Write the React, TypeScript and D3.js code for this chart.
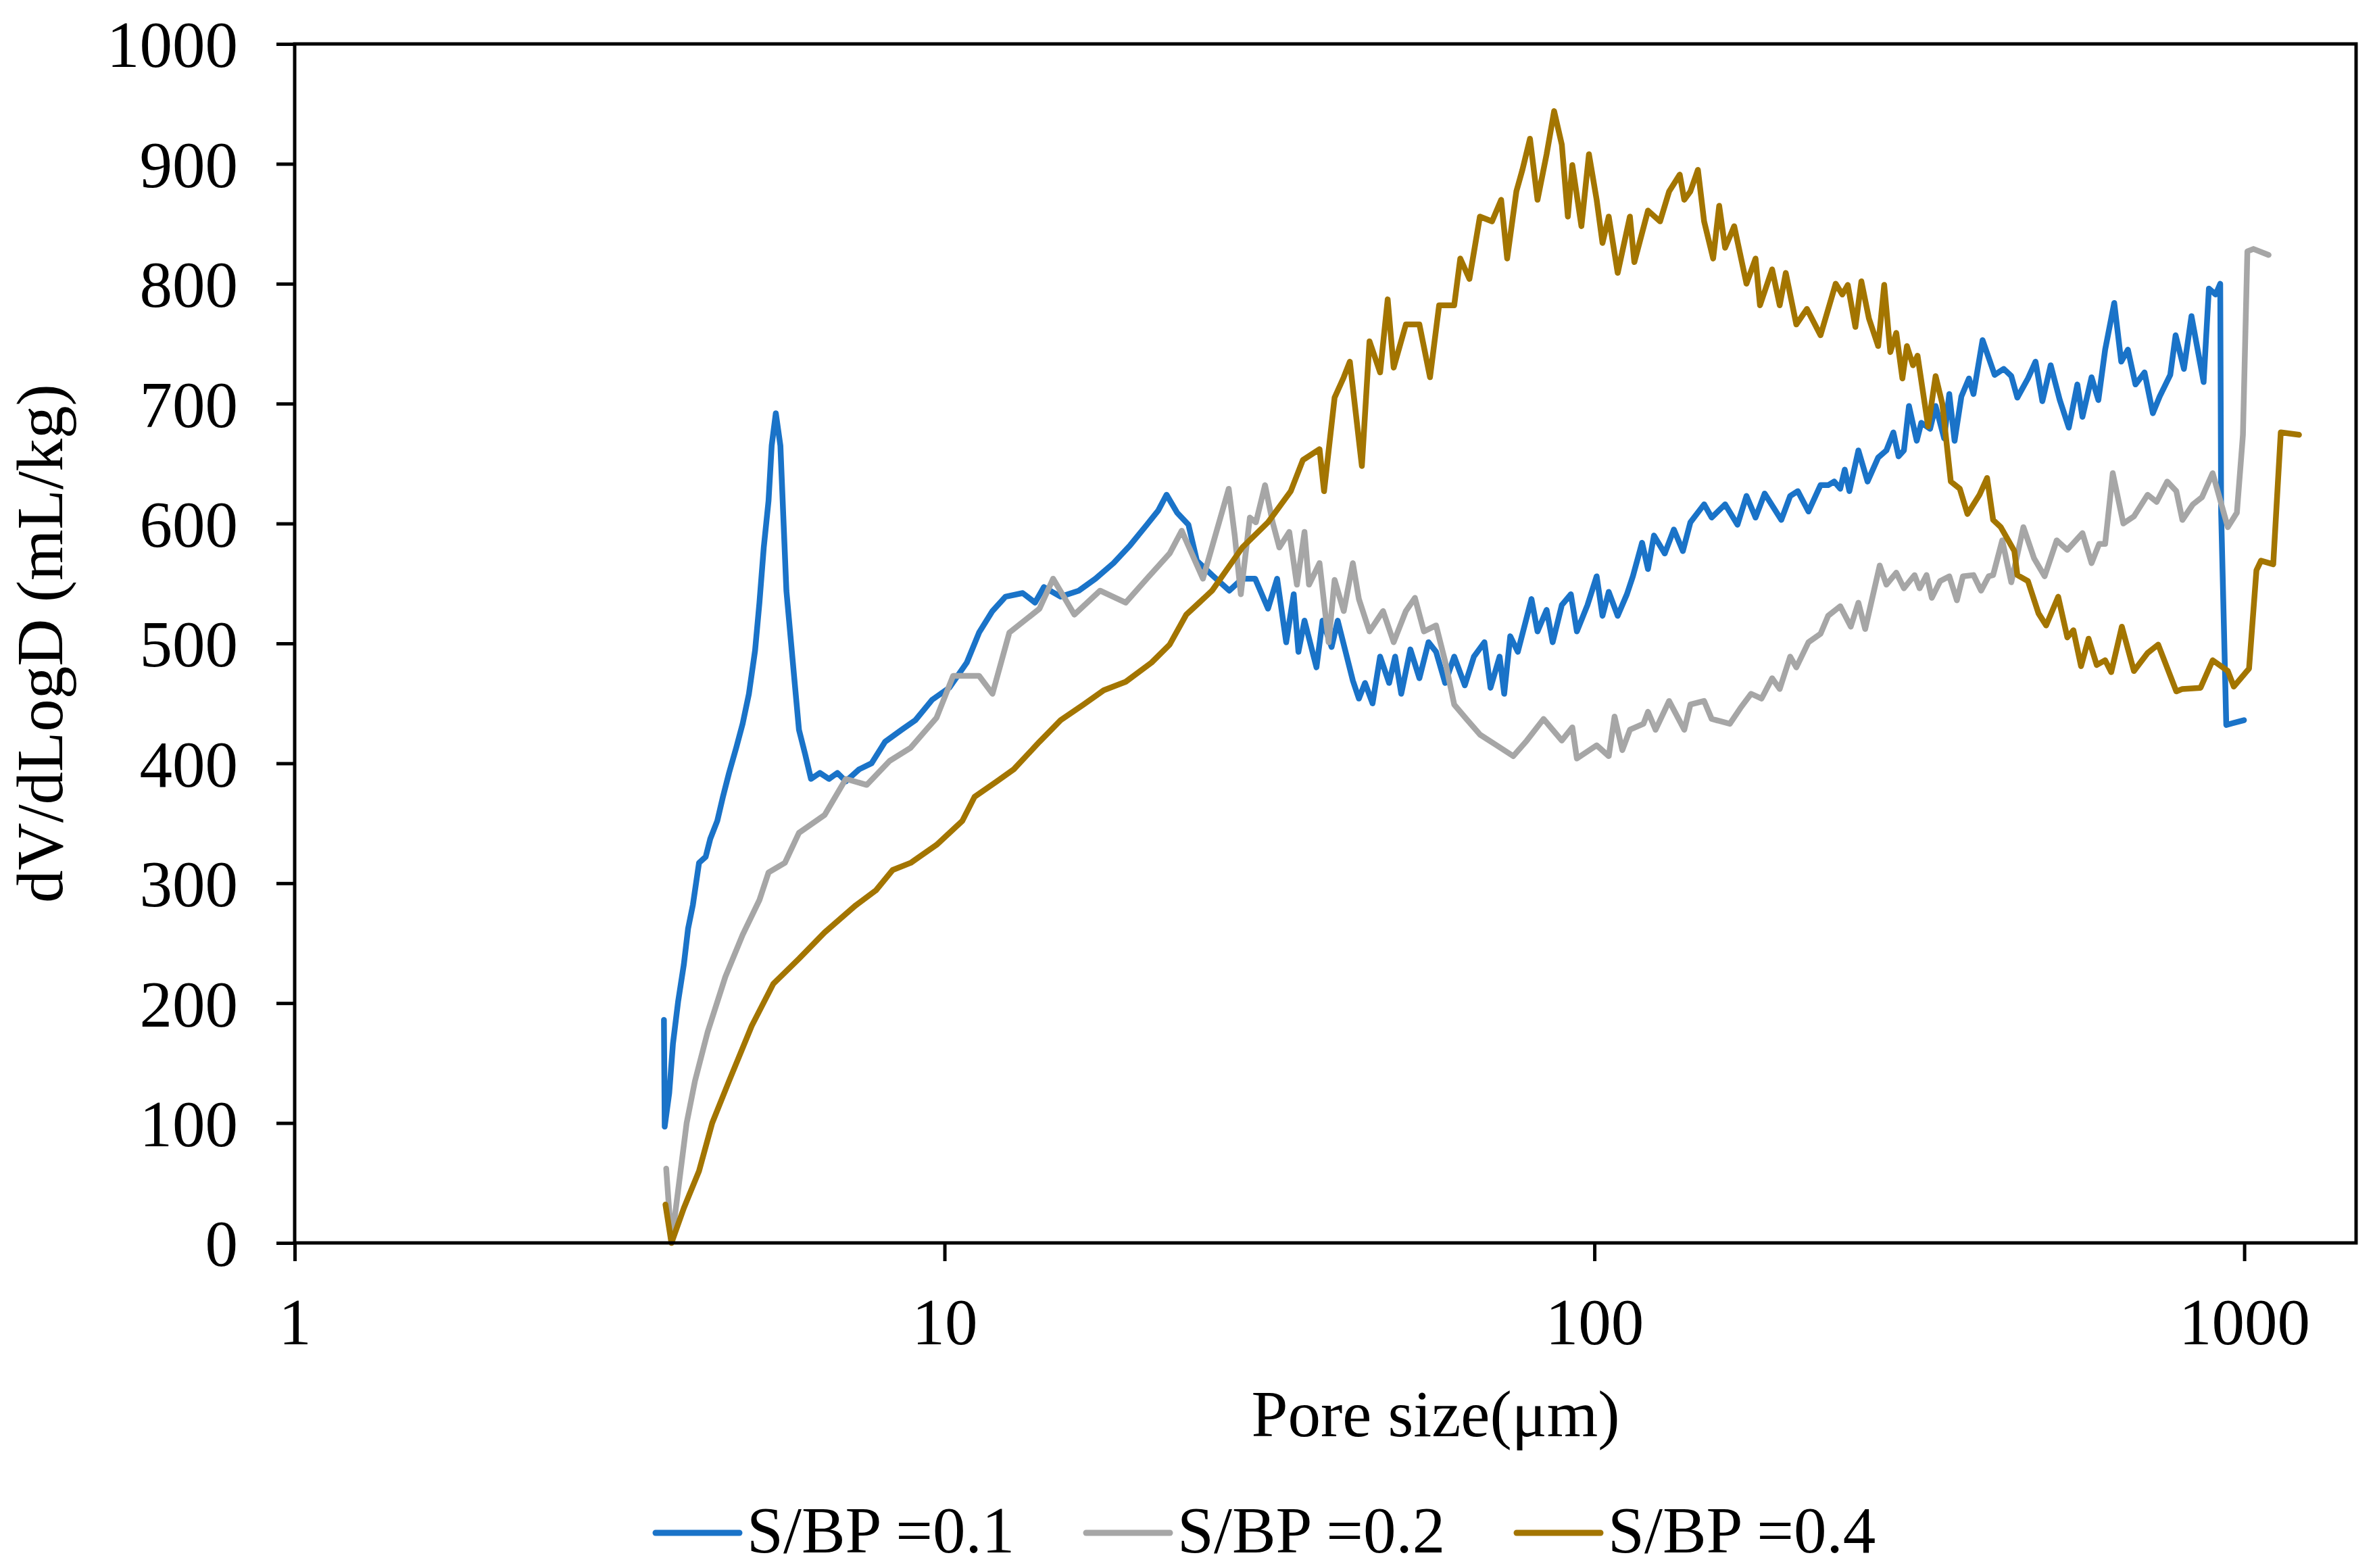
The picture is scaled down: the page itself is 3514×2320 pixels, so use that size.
import React, { useEffect, useRef } from 'react';
import * as d3 from 'd3';

// pore size (µm) and dV/dLogD (mL/kg)
const sizes01 = [
  3.70, 3.71, 3.77, 3.82, 3.89, 3.97, 4.03, 4.10, 4.19, 4.29,
  4.36, 4.47, 4.56, 4.66, 4.78, 4.89, 5.00, 5.11, 5.19, 5.27,
  5.36, 5.42, 5.50, 5.59, 5.65, 5.71, 5.82, 5.97, 6.10, 6.23,
  6.43, 6.64, 6.84, 7.05, 7.39, 7.72, 8.10, 8.59, 9.02, 9.57,
  10.17, 10.82, 11.30, 11.85, 12.41, 13.19, 13.78, 14.22, 15.09, 16.09,
  17.07, 18.20, 19.31, 20.48, 21.33, 21.96, 22.80, 23.73, 24.45, 25.80,
  27.43, 28.72, 30.06, 31.46, 32.49,
  33.55, 34.46, 35.04, 35.80, 37.35, 38.16, 39.41, 40.27, 41.59, 42.49,
  43.41, 44.36, 45.56, 46.80, 48.32, 49.36, 50.44, 52.09, 53.79, 55.55,
  57.06, 58.93, 60.85, 63.18, 65.25, 67.73, 69.20, 71.47, 72.64, 74.21,
  76.23, 80.01, 81.74, 84.42, 86.25, 89.09, 91.99, 93.98, 97.57, 100.8,
  102.9, 105.2, 108.6, 112.2, 114.6, 118.4, 120.9, 123.5, 128.3, 132.5,
  136.8, 140.5, 147.5, 151.5, 158.9, 166.0, 171.4, 177.0, 182.8, 193.9,
  200.1, 205.6, 213.5, 222.8,
  228.9, 233.9, 238.9, 242.8, 246.8, 254.8, 263.2, 273.3, 281.4, 288.4,
  293.8, 299.4, 304.8, 313.3, 318.4, 328.5, 335.0, 345.3, 351.6, 358.3,
  367.0, 377.0, 383.1, 395.6, 412.9, 426.4, 438.0, 447.5, 464.6, 477.3,
  489.0, 503.6, 520.1, 537.0, 553.5, 563.6, 582.1, 596.3, 610.8, 630.8,
  646.6, 662.1, 680.1, 702.3, 723.3, 741.0, 769.3, 784.0, 807.5, 829.4,
  865.8, 882.1, 903.6, 918.3, 921.3, 938.2, 998.9,
];
const dv01 = [
  186, 97, 125, 166, 201, 232, 262, 282, 317, 322,
  337, 352, 372, 392, 413, 433, 458, 494, 534, 580,
  619, 665, 692, 665, 604, 544, 494, 428, 408, 387,
  392, 387, 392, 385, 395, 400, 418, 428, 436, 453,
  463, 484, 509, 527, 539, 542, 534, 547, 539, 544,
  554, 567, 582, 599, 611, 624, 609, 599, 569, 557,
  544, 554, 554, 529, 554,
  501, 541, 493, 519, 480, 519, 497, 519, 489, 469,
  454, 467, 450, 489, 467, 489, 458, 495, 471, 501,
  493, 467, 489, 465, 489, 501, 463, 489, 458, 506,
  493, 537, 510, 528, 501, 532, 541, 510, 532, 556,
  523, 543, 523, 541, 556, 584, 562, 590, 575, 595,
  577, 601, 616, 605, 616, 599, 623, 605, 625, 603,
  623, 627, 610, 632,
  632, 635, 629, 645, 627, 661, 635, 655, 661, 676,
  656, 661, 698, 669, 684, 679, 698, 671, 708, 669,
  706, 721, 708, 753, 724, 729, 723, 705, 721, 735,
  702, 732, 703, 680, 716, 689, 722, 703, 745, 784,
  735, 745, 716, 726, 692, 706, 724, 757, 729, 773,
  718, 796, 791, 800, 609, 432, 436,
];

const sizes02 = [
  3.73, 3.80, 4.01, 4.13, 4.32, 4.60, 4.89, 5.19, 5.36, 5.68,
  5.97, 6.54, 7.05, 7.59, 8.23, 8.87, 9.72, 10.31, 11.30, 11.85,
  12.58, 14.00, 14.69, 15.84, 17.35, 19.00, 20.48, 22.20, 23.17, 24.98, 27.37, 27.96,
  28.57, 29.50, 30.14, 31.13, 31.98, 32.75, 33.92, 34.85, 35.80, 36.38,
  37.76, 38.99, 39.83, 41.14, 42.49, 43.41, 45.07, 47.29, 49.10, 51.27,
  52.94, 54.66, 57.06, 58.93, 60.85, 63.53, 66.65, 70.71, 75.01, 78.71,
  83.51, 89.09, 92.47, 93.98, 100.8, 105.2, 107.4, 110.4, 113.4, 119.0,
  120.9, 124.2, 130.3, 137.5, 140.5, 147.5, 151.5, 161.6, 167.7, 174.2,
  180.8, 187.7, 192.8, 200.1, 204.5, 213.5, 222.8, 228.9,
  238.9, 248.0, 254.8, 261.0, 274.8, 281.4, 291.4, 299.4, 310.9, 316.5,
  324.4, 330.5, 340.4, 351.6, 361.2, 369.0, 383.1, 393.5, 404.2, 410.7,
  424.2, 438.0, 457.2, 474.8, 492.9, 514.5, 534.1, 563.6, 582.1, 597.9,
  610.8, 627.5, 651.5, 676.4, 710.0, 733.2, 761.1, 786.0, 803.1, 833.7,
  861.0, 894.0, 943.2, 974.1, 995.2, 1011, 1033, 1090,
];
const dv02 = [
  62, 0, 100, 135, 176, 222, 257, 286, 309, 317,
  342, 357, 387, 382, 402, 413, 438, 473, 473, 458,
  509, 529, 554, 524, 544, 534, 554, 575, 594, 554, 629, 590,
  541, 605, 601, 632, 601, 580, 593, 549, 593, 549,
  567, 501, 553, 527, 567, 537, 510, 527, 501, 527,
  538, 510, 515, 485, 449, 437, 424, 415, 406, 419,
  437, 419, 430, 404, 415, 406, 439, 411, 428, 433,
  443, 428, 452, 428, 449, 452, 437, 433, 446, 458,
  454, 471, 462, 489, 480, 501, 508, 523,
  531, 514, 534, 512, 565, 549, 559, 546, 557, 546,
  557, 538, 552, 556, 536, 556, 557, 544, 556, 557,
  586, 551, 597, 571, 556, 586, 578, 592, 567, 583,
  583, 642, 600, 606, 624, 618, 635, 627, 603, 616,
  622, 642, 597, 609, 674, 827, 829, 824,
];

const sizes04 = [
  3.72, 3.80, 3.97, 4.19, 4.39, 4.66, 5.05, 5.45, 5.97, 6.54,
  7.28, 7.84, 8.32, 8.87, 9.72, 10.65, 11.12, 12.04, 12.78, 14.00,
  15.09, 16.36, 17.58, 19.00, 20.82, 22.20, 23.55, 25.80,
  28.72, 31.46, 34.10, 35.60, 37.76, 38.37, 39.83, 41.14, 42.04, 43.87,
  45.07, 46.80, 48.07, 49.10, 51.27, 53.79, 55.85, 57.68, 60.85, 62.17,
  64.22, 66.65, 69.57, 71.86, 73.41, 75.84, 77.48, 79.59, 81.74, 84.42,
  86.70, 89.09, 91.02, 92.47, 95.50, 98.08, 100.8, 102.9, 105.2, 108.6,
  113.4, 115.2, 120.9, 126.2, 130.3, 135.3, 137.5, 140.5, 144.3, 147.5,
  152.3, 155.6, 158.9, 164.1, 171.4, 177.0, 179.8, 187.7, 192.8, 197.0,
  204.5, 212.3, 222.8,
  235.1, 240.7, 245.4, 252.1, 257.5, 264.5, 273.3, 279.2, 285.3, 291.4,
  297.8, 302.6, 309.2, 314.2, 326.2, 335.0, 343.0, 353.5, 365.0, 375.0,
  391.4, 402.0, 410.7, 421.9, 442.8, 447.5, 464.6, 482.4, 495.6, 517.2,
  534.2, 545.8, 560.8, 576.0, 592.9, 610.8, 624.1, 648.0, 676.4, 710.0,
  737.1, 786.0, 803.1, 856.4, 894.0, 943.2, 963.6, 1017, 1044, 1061,
  1108, 1138, 1214,
];
const dv04 = [
  32, 0, 29, 60, 100, 135, 181, 216, 237, 259,
  281, 294, 311, 317, 332, 352, 372, 385, 395, 418,
  436, 449, 461, 468, 484, 499, 524, 544,
  580, 601, 627, 653, 662, 627, 705, 722, 735, 648,
  752, 726, 787, 730, 766, 766, 722, 782, 782, 821,
  804, 856, 852, 870, 821, 877, 895, 921, 870, 908,
  944, 916, 856, 899, 848, 908, 870, 834, 856, 809,
  856, 818, 861, 852, 877, 891, 870, 877, 895, 852,
  821, 865, 830, 848, 800, 821, 782, 812, 782, 809,
  766, 779, 757,
  800, 791, 799, 764, 802, 771, 748, 799, 743, 759,
  721, 748, 732, 740, 681, 723, 700, 635, 629, 608,
  624, 638, 603, 597, 577, 557, 552, 525, 515, 539,
  505, 511, 481, 504, 482, 486, 476, 514, 477, 492,
  499, 460, 462, 463, 486, 477, 464, 479, 561, 569,
  566, 676, 674,
];

const seriesNames = ['S/BP =0.1', 'S/BP =0.2', 'S/BP =0.4'];
const seriesColors = ['#1A73C8', '#A6A6A6', '#A37500'];
const poreTicks = [1, 10, 100, 1000];
const dvTicks = [0, 100, 200, 300, 400, 500, 600, 700, 800, 900, 1000];

const font = '"Liberation Serif", "Times New Roman", serif';

export default function App() {
  const ref = useRef<SVGSVGElement | null>(null);
  useEffect(() => {
    const svg = d3.select(ref.current);
    svg.selectAll('*').remove();
    const width = 3514, height = 2320;
    const margin = { top: 65, right: 28, bottom: 481, left: 436 };
    const x = d3.scaleLog().domain([1, 1486]).range([margin.left, width - margin.right]);
    const y = d3.scaleLinear().domain([0, 1000]).range([height - margin.bottom, margin.top]);

    svg.attr('viewBox', `0 0 ${width} ${height}`);
    svg.append('rect').attr('width', width).attr('height', height).attr('fill', '#fff');

    const series = [
      d3.zip(sizes01, dv01),
      d3.zip(sizes02, dv02),
      d3.zip(sizes04, dv04),
    ];
    const line = d3.line<number[]>().x(d => x(d[0])).y(d => y(d[1]));

    svg.selectAll('path.series').data(series).join('path')
      .attr('class', 'series')
      .attr('d', d => line(d))
      .attr('fill', 'none')
      .attr('stroke', (d, i) => seriesColors[i])
      .attr('stroke-width', 8.5)
      .attr('stroke-linejoin', 'round')
      .attr('stroke-linecap', 'round');

    // frame
    svg.append('rect')
      .attr('x', margin.left).attr('y', margin.top)
      .attr('width', width - margin.left - margin.right)
      .attr('height', height - margin.top - margin.bottom)
      .attr('fill', 'none').attr('stroke', '#000').attr('stroke-width', 5);

    const yAxis = svg.append('g')
      .attr('transform', `translate(${margin.left},0)`)
      .call(d3.axisLeft(y).tickValues(dvTicks).tickSize(27).tickPadding(57).tickFormat(d3.format('d')));
    yAxis.attr('font-size', 97).attr('font-family', font);
    yAxis.select('.domain').remove();
    yAxis.selectAll('.tick line').attr('stroke', '#000').attr('stroke-width', 5);
    yAxis.selectAll('.tick text').attr('fill', '#000').attr('dy', '0.35em');

    const xAxis = svg.append('g')
      .attr('transform', `translate(0,${height - margin.bottom})`)
      .call(d3.axisBottom(x).tickValues(poreTicks).tickSize(27).tickPadding(54).tickFormat(d3.format('d')));
    xAxis.attr('font-size', 97).attr('font-family', font);
    xAxis.select('.domain').remove();
    xAxis.selectAll('.tick line').attr('stroke', '#000').attr('stroke-width', 5);
    xAxis.selectAll('.tick text').attr('fill', '#000');

    svg.append('text')
      .attr('x', 2124).attr('y', 2125)
      .attr('text-anchor', 'middle')
      .attr('font-family', font).attr('font-size', 97)
      .text('Pore size(μm)');

    svg.append('text')
      .attr('transform', `translate(92,${(margin.top + height - margin.bottom) / 2}) rotate(-90)`)
      .attr('text-anchor', 'middle')
      .attr('font-family', font).attr('font-size', 97)
      .text('dV/dLogD (mL/kg)');

    const legend = svg.append('g').attr('transform', 'translate(970,2268)');
    const items = legend.selectAll('g').data(seriesNames).join('g')
      .attr('transform', (d, i) => `translate(${i * 637},0)`);
    items.append('line')
      .attr('x1', 0).attr('x2', 124).attr('y1', 0).attr('y2', 0)
      .attr('stroke', (d, i) => seriesColors[i])
      .attr('stroke-width', 9).attr('stroke-linecap', 'round');
    items.append('text')
      .attr('x', 135).attr('y', 29)
      .attr('font-family', font).attr('font-size', 97)
      .text(d => d);
  }, []);
  return <svg ref={ref} width={3514} height={2320} style={{ position: 'absolute', left: 0, top: 0 }} />;
}
